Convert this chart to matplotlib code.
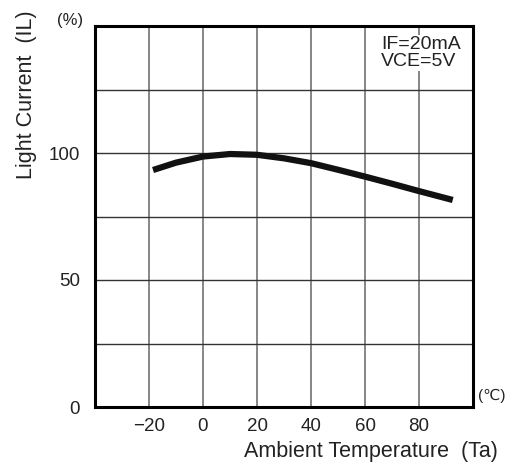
import matplotlib.pyplot as plt
import numpy as np

plt.rcParams['font.family'] = ['Liberation Sans', 'DejaVu Sans']

# curve
temp = [-18.5, -10, 0, 10, 20, 30, 40, 50, 60, 70, 80, 92.5]
light = [93.3, 96.2, 98.6, 99.6, 99.3, 97.9, 96.0, 93.4, 90.7, 87.9, 85.0, 81.5]

x_ticks = [-20, 0, 20, 40, 60, 80]
x_labels = ['\u221220', '0', '20', '40', '60', '80']
y_ticks = [0, 50, 100]
grid_x = [-20, 0, 20, 40, 60, 80]
grid_y = [25, 50, 75, 100, 125]

fig = plt.figure(figsize=(5.15, 4.68), dpi=100)
ax = fig.add_axes([95/515, 1-407/468, 378/515, 381/468])
ax.set_xlim(-40, 100)
ax.set_ylim(0, 150)

for gx in grid_x:
    ax.axvline(gx, color='#666666', lw=1.1, zorder=1)
for gy in grid_y:
    ax.axhline(gy, color='#333333', lw=1.0, zorder=1)

ax.plot(temp, light, color='#111111', lw=4.5, solid_capstyle='butt', zorder=3)

for s in ax.spines.values():
    s.set_linewidth(2.2)
    s.set_color('black')

ax.set_xticks(x_ticks)
ax.set_xticklabels(x_labels)
ax.set_yticks(y_ticks)
ax.tick_params(length=0, labelsize=13.5, colors='#222222')
ax.tick_params(axis='x', pad=8)
ax.tick_params(axis='y', pad=11)

fig.text(381/515, 1-36/468, 'IF=20mA\nVCE=5V', fontsize=14,
         ha='left', va='top', color='#222222', linespacing=1.0,
         bbox=dict(facecolor='white', edgecolor='none', pad=1), zorder=4)

fig.text(70/515, 1-20/468, '(%)', fontsize=12, ha='center', va='center', color='#222222')
fig.text(27/515, 1-95/468, 'Light Current  (IL)', fontsize=15.5,
         rotation=90, ha='center', va='center', color='#222222')
fig.text(492/515, 1-396/468, '(\u2103)', fontsize=11, ha='center', va='center', color='#222222')
fig.text(371/515, 1-451/468, 'Ambient Temperature  (Ta)', fontsize=15.5,
         ha='center', va='center', color='#222222')

fig.savefig('out.png', dpi=100)
